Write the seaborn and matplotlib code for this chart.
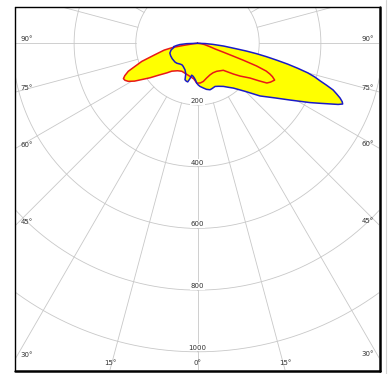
import numpy as np
import matplotlib
matplotlib.use("Agg")
import matplotlib.pyplot as plt
import seaborn as sns
from matplotlib.patches import Rectangle
from matplotlib.lines import Line2D

# ---------------- data (gamma angle in degrees, intensity in cd) ----------------
RED_GAMMA = [-90, -84, -81.5, -80.5, -78.5, -75, -72, -68, -66, -64.5, -63, -61.2, -59, -57,
             -54, -50.8, -46, -42.7, -36, -29.4, -20, -12.8, -6, -1, 4, 8.7, 15, 21.7, 28,
             34.4, 43.7, 49.4, 52.4, 56.5, 58.5, 60.2, 62, 64.5, 66, 67, 68, 69, 69.7, 70.3,
             71, 72, 75, 80, 85, 90]
RED_CD = [0, 12, 45, 80, 110, 143, 190, 242, 258, 266, 264, 256, 238, 216,
          190, 164, 138, 123, 110, 104, 106, 110, 116, 129, 129, 125, 116, 110, 108,
          110, 121, 153, 174, 204, 232, 259, 268, 277, 266, 255, 240, 205, 160, 120,
          90, 62, 40, 22, 10, 0]

BLUE_GAMMA = [-90, -88, -86, -84, -82, -80, -76, -70.6, -65, -58.6, -50.3, -46, -40.2, -36,
              -31.7, -25.3, -22, -20.6, -18.9, -16.5, -14.2, -12, -10.3, -7.5, -5.3, -3,
              -1.2, 1, 3.3, 7.4, 11, 15.1, 18, 22.1, 26, 31, 35, 38.7, 44.7, 49.9, 54.8,
              58.5, 62.2, 63.9, 65.4, 66.5, 67.3, 68, 69, 70, 71, 72, 73, 74, 75, 76, 77,
              78, 79, 80, 81, 82, 84, 86, 88, 90]
BLUE_CD = [0, 35, 57, 68, 78, 78, 88, 95, 96, 96, 95, 93, 88, 86,
           88, 95, 103, 109, 125, 128, 129, 117, 105, 108, 113, 120,
           129, 135, 140, 146, 152, 156, 154, 151, 155, 163, 174, 186, 219, 265, 307,
           352, 412, 442, 472, 497, 510, 506, 495, 480, 465, 440, 415, 395, 370, 335, 300,
           262, 228, 195, 160, 125, 85, 50, 25, 0]

RING_VALUES = [200, 400, 600, 800, 1000]
SIDE_ANGLES = [90, 75, 60, 45, 30]
BOTTOM_ANGLES = [-15, 0, 15]

# ---------------- style ----------------
W, H = 391, 374
sns.set_style("white")
plt.rcParams["font.family"] = ["DejaVu Sans"]

GRID = "#c8c8c8"
TXT = "#333333"
YELLOW = "#ffff00"
RED = "#e81818"
BLUE = "#1a1ac8"

CX, CY = 197.5, 43.3          # pole position in pixels (from top-left)
PX_PER_CD = 0.3085
RMAX = 1300
FL, FT, FR, FB = 15, 7, 379, 370   # frame in pixels

fig = plt.figure(figsize=(W / 100, H / 100), dpi=100)
fig.patch.set_facecolor("white")
rad_px = RMAX * PX_PER_CD
ax = fig.add_axes([(CX - rad_px) / W, (H - CY - rad_px) / H, 2 * rad_px / W, 2 * rad_px / H],
                  projection="polar")
ax.set_theta_zero_location("S")
ax.set_theta_direction(1)
ax.set_ylim(0, RMAX)
ax.set_axis_off()

clip = Rectangle((FL / W, 1 - FB / H), (FR - FL) / W, (FB - FT) / H, transform=fig.transFigure)

# grid rings
th = np.linspace(0, 2 * np.pi, 1441)
for r in RING_VALUES:
    ln, = ax.plot(th, np.full_like(th, r), color=GRID, lw=0.6, zorder=1)
    ln.set_clip_path(clip)
# radial lines every 15 degrees, starting at the first ring
for deg in range(0, 360, 15):
    a = np.deg2rad(deg)
    ln, = ax.plot([a, a], [RING_VALUES[0], RMAX], color=GRID, lw=0.6, zorder=1)
    ln.set_clip_path(clip)

# data
red_t = np.deg2rad(RED_GAMMA)
blue_t = np.deg2rad(BLUE_GAMMA)
for t, v in ((red_t, RED_CD), (blue_t, BLUE_CD)):
    for p in ax.fill(t, v, color=YELLOW, lw=0, zorder=2):
        p.set_clip_path(clip)
sns.lineplot(x=red_t, y=RED_CD, sort=False, estimator=None, color=RED, lw=1.1, ax=ax, zorder=3)
sns.lineplot(x=blue_t, y=BLUE_CD, sort=False, estimator=None, color=BLUE, lw=1.1, ax=ax, zorder=4)
ax.set_ylim(0, RMAX)
ax.set_axis_off()

# ring labels along the 0 deg line
for r in RING_VALUES:
    ax.text(0, r - 13, f"{r}", ha="center", va="center", fontsize=5, color=TXT, zorder=5,
            bbox=dict(boxstyle="square,pad=0.1", fc="white", ec="none"))

# side angle labels
def fx(x):
    return x / W

def fy(y):
    return 1 - y / H

for g in SIDE_ANGLES:
    hit = CY + (CX - FL) / np.tan(np.deg2rad(g))
    fig.text(fx(FL + 5.5), fy(hit - 4), f"{g}°", ha="left", va="center", fontsize=5, color=TXT)
    hit_r = CY + (FR - CX) / np.tan(np.deg2rad(g))
    fig.text(fx(FR - 5.5), fy(hit_r - 4), f"{g}°", ha="right", va="center", fontsize=5, color=TXT)

for g in BOTTOM_ANGLES:
    xb = CX + (FB - CY) * np.tan(np.deg2rad(g))
    fig.text(fx(xb), fy(FB - 7), f"{abs(g)}°", ha="center", va="center", fontsize=5, color=TXT)

# frame
fig.add_artist(Line2D([fx(FL), fx(FL)], [fy(FT), fy(FB)], color="black", lw=1.0))
fig.add_artist(Line2D([fx(FL), fx(FR)], [fy(FT), fy(FT)], color="black", lw=1.0))
fig.add_artist(Line2D([fx(FR + 0.5), fx(FR + 0.5)], [fy(FT), fy(FB + 1)], color="black", lw=1.8))
fig.add_artist(Line2D([fx(FL), fx(FR + 1)], [fy(FB + 0.5), fy(FB + 0.5)], color="black", lw=1.8))
fig.add_artist(Line2D([fx(386), fx(386)], [0, 1], color="#d4d4d4", lw=0.8))

fig.savefig("out.png", dpi=100)
